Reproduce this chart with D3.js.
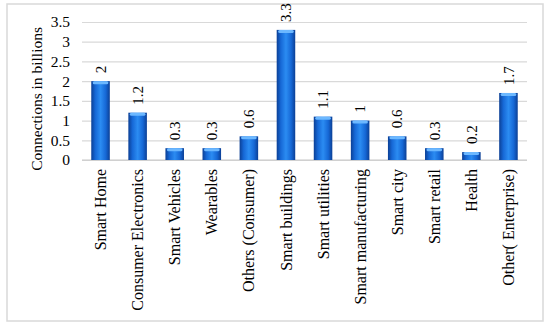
<!DOCTYPE html>
<html>
<head>
<meta charset="utf-8">
<script src="https://cdn.jsdelivr.net/npm/d3@7"></script>
<style>
  body { margin: 0; background: #fff; }
  text { font-family: "Liberation Serif", "Times New Roman", serif; fill: #000; }
</style>
</head>
<body>
<div id="chart"></div>
<script>
// data
const categories = ["Smart Home", "Consumer Electronics", "Smart Vehicles", "Wearables",
  "Others (Consumer)", "Smart buildings", "Smart utilities", "Smart manufacturing",
  "Smart city", "Smart retail", "Health", "Other( Enterprise)"];
const connections = [2, 1.2, 0.3, 0.3, 0.6, 3.3, 1.1, 1, 0.6, 0.3, 0.2, 1.7];
const yTicks = [0, 0.5, 1, 1.5, 2, 2.5, 3, 3.5];

const W = 550, H = 328;
const margin = {top: 22, right: 23, bottom: 168, left: 82};
const width = W - margin.left - margin.right;
const height = H - margin.top - margin.bottom;

const root = d3.select("#chart").append("svg")
  .attr("width", W).attr("height", H);

// outer frame
root.append("rect")
  .attr("x", 7).attr("y", 4).attr("width", 536).attr("height", 317)
  .attr("fill", "none").attr("stroke", "#d9d9d9").attr("stroke-width", 1.5);

// bar gradient (dark edges, bright middle)
const defs = root.append("defs");
const grad = defs.append("linearGradient").attr("id", "barGrad")
  .attr("x1", "0%").attr("x2", "100%").attr("y1", "0%").attr("y2", "0%");
[["0%", "#0b3f95"], ["22%", "#1668d6"], ["50%", "#2b8cf2"], ["78%", "#1668d6"], ["100%", "#0b3f95"]]
  .forEach(s => grad.append("stop").attr("offset", s[0]).attr("stop-color", s[1]));

const svg = root.append("g").attr("transform", `translate(${margin.left},${margin.top})`);

const x = d3.scaleBand().domain(categories).range([0, width]).paddingInner(0.5).paddingOuter(0.25);
const y = d3.scaleLinear().domain([0, 3.5]).range([height, 0]);

// gridlines
svg.append("g")
  .call(d3.axisLeft(y).tickValues(yTicks).tickSize(-width).tickFormat(""))
  .call(g => g.select(".domain").remove())
  .call(g => g.selectAll("line").attr("stroke", "#d9d9d9").attr("stroke-width", 1.2));

// y axis labels
svg.append("g")
  .call(d3.axisLeft(y).tickValues(yTicks).tickSize(0).tickPadding(12).tickFormat(d => d))
  .call(g => g.select(".domain").remove())
  .call(g => g.selectAll("text").style("font-size", "15.5px").style("font-family", "Liberation Serif"));

// bottom axis line
svg.append("line")
  .attr("x1", 0).attr("x2", width).attr("y1", height).attr("y2", height)
  .attr("stroke", "#c8c8c8").attr("stroke-width", 1.2);

// bars
svg.selectAll(".bar").data(categories).enter().append("rect")
  .attr("class", "bar")
  .attr("x", d => x(d))
  .attr("y", (d, i) => y(connections[i]))
  .attr("width", x.bandwidth())
  .attr("height", (d, i) => height - y(connections[i]))
  .attr("fill", "url(#barGrad)");

// bar top caps
svg.selectAll(".cap").data(categories).enter().append("rect")
  .attr("class", "cap")
  .attr("x", d => x(d) + 1.5)
  .attr("y", (d, i) => y(connections[i]))
  .attr("width", x.bandwidth() - 3)
  .attr("height", 3)
  .attr("rx", 1.5)
  .attr("fill", "#6cb8ff");

// value labels
svg.selectAll(".val").data(categories).enter().append("text")
  .attr("class", "val")
  .attr("transform", (d, i) => `translate(${x(d) + x.bandwidth() / 2},${y(connections[i]) - 8}) rotate(-90)`)
  .attr("dy", "0.35em")
  .attr("text-anchor", "start")
  .style("font-size", "15px")
  .text((d, i) => connections[i]);

// x labels
svg.selectAll(".xl").data(categories).enter().append("text")
  .attr("class", "xl")
  .attr("transform", d => `translate(${x(d) + x.bandwidth() / 2},${height + 9}) rotate(-90)`)
  .attr("dy", "0.35em")
  .attr("text-anchor", "end")
  .style("font-size", "16px")
  .text(d => d);

// y title
root.append("text")
  .attr("transform", "translate(37,27) rotate(-90)")
  .attr("dy", "0.35em")
  .attr("text-anchor", "end")
  .style("font-size", "15.5px")
  .text("Connections in billions");
</script>
</body>
</html>
